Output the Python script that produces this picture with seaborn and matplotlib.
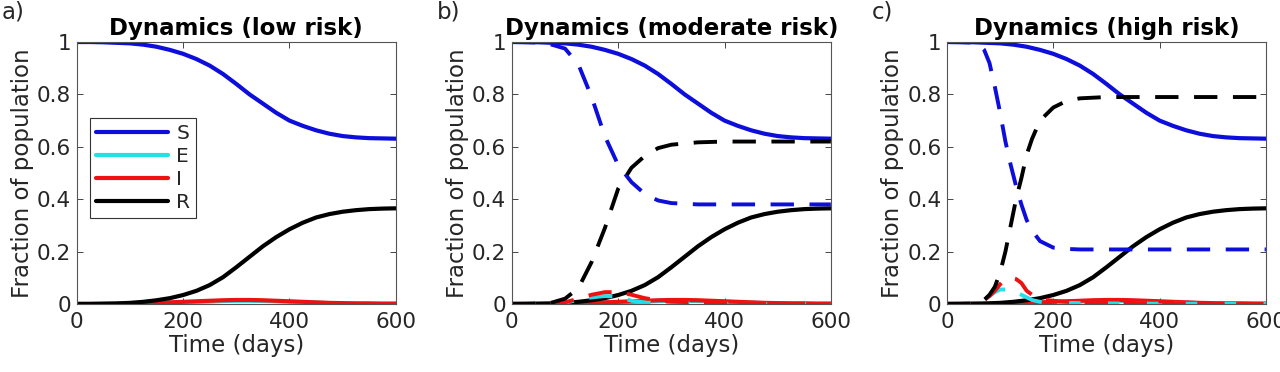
import seaborn as sns
import matplotlib.pyplot as plt

sns.set_style("ticks")
plt.rcParams['font.family'] = ['DejaVu Sans']

# solid curves (same in every panel)
t = [0, 25, 50, 75, 100, 125, 150, 175, 200, 225, 250, 275, 300, 325, 350, 375,
     400, 425, 450, 475, 500, 525, 550, 575, 600]
S = [1.0, 1.0, 0.999, 0.997, 0.995, 0.99, 0.982, 0.97, 0.955, 0.935, 0.91, 0.878,
     0.84, 0.80, 0.765, 0.73, 0.70, 0.68, 0.663, 0.65, 0.641, 0.636, 0.633, 0.632, 0.631]
E = [0, 0, 0, 0, 0.001, 0.002, 0.003, 0.005, 0.006, 0.008, 0.009, 0.011, 0.012, 0.012,
     0.011, 0.010, 0.008, 0.006, 0.005, 0.003, 0.002, 0.002, 0.001, 0.001, 0.001]
I = [0, 0, 0, 0, 0.001, 0.002, 0.004, 0.006, 0.008, 0.010, 0.012, 0.014, 0.015, 0.015,
     0.014, 0.012, 0.010, 0.008, 0.006, 0.004, 0.003, 0.002, 0.002, 0.001, 0.001]
R = [0, 0, 0.001, 0.002, 0.004, 0.008, 0.014, 0.022, 0.034, 0.05, 0.072, 0.102, 0.14,
     0.18, 0.22, 0.255, 0.285, 0.31, 0.33, 0.343, 0.352, 0.358, 0.362, 0.364, 0.365]

# dashed curves, moderate risk
t_b = [0, 50, 75, 100, 125, 150, 175, 200, 225, 250, 275, 300, 350, 400, 500, 600]
S_b = [1.0, 0.998, 0.99, 0.975, 0.915, 0.79, 0.64, 0.53, 0.465, 0.42, 0.395, 0.385,
       0.38, 0.38, 0.38, 0.38]
E_b = [0, 0, 0.002, 0.005, 0.015, 0.025, 0.03, 0.028, 0.012, 0.006, 0.004, 0.003,
       0.002, 0.001, 0, 0]
I_b = [0, 0, 0.002, 0.006, 0.02, 0.035, 0.045, 0.045, 0.035, 0.022, 0.014, 0.009,
       0.005, 0.003, 0.001, 0]
R_b = [0, 0.001, 0.005, 0.02, 0.06, 0.16, 0.29, 0.44, 0.52, 0.565, 0.595, 0.608,
       0.617, 0.62, 0.62, 0.62]

# dashed curves, high risk
t_c = [0, 50, 60, 70, 80, 90, 100, 110, 120, 130, 140, 150, 160, 175, 200, 225, 250,
       300, 400, 600]
S_c = [1.0, 0.998, 0.99, 0.97, 0.92, 0.83, 0.73, 0.62, 0.53, 0.45, 0.38, 0.32, 0.28,
       0.24, 0.215, 0.21, 0.208, 0.208, 0.208, 0.208]
E_c = [0, 0, 0.005, 0.015, 0.03, 0.045, 0.055, 0.055, 0.05, 0.045, 0.035, 0.025, 0.015,
       0.008, 0.005, 0.004, 0.003, 0.002, 0.001, 0]
I_c = [0, 0, 0.005, 0.015, 0.03, 0.05, 0.075, 0.095, 0.10, 0.095, 0.08, 0.05, 0.035,
       0.018, 0.012, 0.008, 0.006, 0.004, 0.002, 0]
R_c = [0, 0.001, 0.005, 0.015, 0.035, 0.065, 0.12, 0.20, 0.30, 0.40, 0.48, 0.57, 0.63,
       0.70, 0.75, 0.775, 0.785, 0.79, 0.79, 0.79]

labels = ['S', 'E', 'I', 'R']
colors = ['#0d0ddc', '#22e0e8', '#ee1111', 'black']
titles = ['Dynamics (low risk)', 'Dynamics (moderate risk)', 'Dynamics (high risk)']
tags = ['a)', 'b)', 'c)']
dashed = [None, (t_b, [S_b, E_b, I_b, R_b]), (t_c, [S_c, E_c, I_c, R_c])]

fs = 15.5
fl = 16.5
fig, axes = plt.subplots(1, 3, figsize=(12.8, 3.72), dpi=100)
plt.subplots_adjust(left=0.06, right=0.989, bottom=0.183, top=0.887, wspace=0.364)

for k, ax in enumerate(axes):
    for lab, y, c in zip(labels, [S, E, I, R], colors):
        sns.lineplot(x=t, y=y, ax=ax, color=c, lw=3.0, label=lab if k == 0 else None)
    if dashed[k] is not None:
        td, ys = dashed[k]
        for y, c in zip(ys, colors):
            sns.lineplot(x=td, y=y, ax=ax, color=c, lw=2.8, linestyle=(0, (6, 4)))
    ax.set_xlim(0, 600)
    ax.set_ylim(0, 1)
    ax.set_xticks([0, 200, 400, 600])
    ax.set_yticks([0, 0.2, 0.4, 0.6, 0.8, 1])
    ax.set_yticklabels(['0', '0.2', '0.4', '0.6', '0.8', '1'])
    ax.tick_params(direction='in', top=True, right=True, labelsize=fs, colors='#262626',
                   length=4, width=0.6, pad=4)
    ax.tick_params(axis='x', pad=6)
    for sp in ax.spines.values():
        sp.set_visible(True)
        sp.set_color('#555555')
        sp.set_linewidth(0.8)
    ax.set_xlabel('Time (days)', fontsize=fl, color='#262626', labelpad=1)
    ax.set_ylabel('Fraction of population', fontsize=fl, color='#262626', labelpad=2)
    ax.set_title(titles[k], fontsize=fl, fontweight='bold', color='black', pad=5)
    ax.text(-0.235, 1.16, tags[k], transform=ax.transAxes, fontsize=fl, va='top')
    if k == 0:
        leg = ax.legend(loc='upper left', bbox_to_anchor=(0.04, 0.71), fontsize=14.5,
                        handlelength=3.6, frameon=True, fancybox=False, framealpha=1,
                        edgecolor='#333333', borderpad=0.3, labelspacing=0.2,
                        handletextpad=0.4, borderaxespad=0)
        leg.get_frame().set_linewidth(0.8)

fig.savefig('out.png', dpi=100)
